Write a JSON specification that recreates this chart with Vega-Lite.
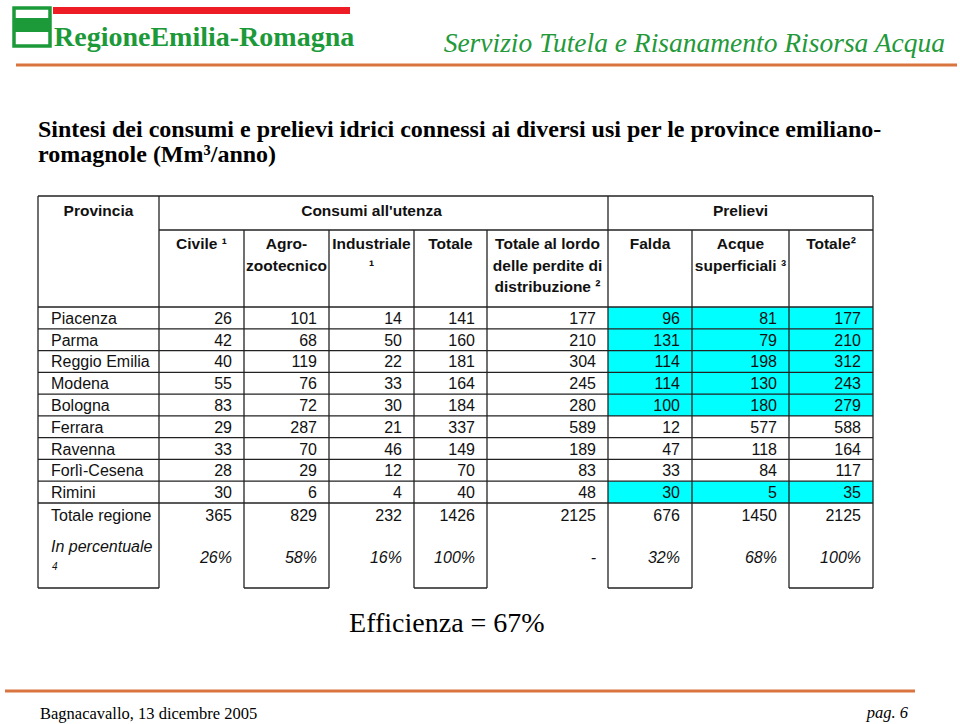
{
  "$schema": "https://vega.github.io/schema/vega-lite/v6.json",
  "width": 960,
  "height": 724,
  "autosize": {"type": "fit", "contains": "padding"},
  "padding": 0,
  "background": "white",
  "config": {"view": {"stroke": null}},
  "datasets": {
    "righe": [
      {"provincia": "Piacenza", "civile": 26, "agro": 101, "industriale": 14, "totale": 141, "lordo": 177, "falda": 96, "acque": 81, "totprel": 177},
      {"provincia": "Parma", "civile": 42, "agro": 68, "industriale": 50, "totale": 160, "lordo": 210, "falda": 131, "acque": 79, "totprel": 210},
      {"provincia": "Reggio Emilia", "civile": 40, "agro": 119, "industriale": 22, "totale": 181, "lordo": 304, "falda": 114, "acque": 198, "totprel": 312},
      {"provincia": "Modena", "civile": 55, "agro": 76, "industriale": 33, "totale": 164, "lordo": 245, "falda": 114, "acque": 130, "totprel": 243},
      {"provincia": "Bologna", "civile": 83, "agro": 72, "industriale": 30, "totale": 184, "lordo": 280, "falda": 100, "acque": 180, "totprel": 279},
      {"provincia": "Ferrara", "civile": 29, "agro": 287, "industriale": 21, "totale": 337, "lordo": 589, "falda": 12, "acque": 577, "totprel": 588},
      {"provincia": "Ravenna", "civile": 33, "agro": 70, "industriale": 46, "totale": 149, "lordo": 189, "falda": 47, "acque": 118, "totprel": 164},
      {"provincia": "Forlì-Cesena", "civile": 28, "agro": 29, "industriale": 12, "totale": 70, "lordo": 83, "falda": 33, "acque": 84, "totprel": 117},
      {"provincia": "Rimini", "civile": 30, "agro": 6, "industriale": 4, "totale": 40, "lordo": 48, "falda": 30, "acque": 5, "totprel": 35},
      {"provincia": "Totale regione", "civile": 365, "agro": 829, "industriale": 232, "totale": 1426, "lordo": 2125, "falda": 676, "acque": 1450, "totprel": 2125}
    ],
    "percentuali": [
      {"provincia": "In percentuale", "nota": "4", "civile": "26%", "agro": "58%", "industriale": "16%", "totale": "100%", "lordo": "-", "falda": "32%", "acque": "68%", "totprel": "100%"}
    ],
    "colonne": [
      {"key": "provincia", "c": 0, "titolo": [""]},
      {"key": "civile", "c": 1, "titolo": ["Civile ¹"]},
      {"key": "agro", "c": 2, "titolo": ["Agro-", "zootecnico"]},
      {"key": "industriale", "c": 3, "titolo": ["Industriale", "¹"]},
      {"key": "totale", "c": 4, "titolo": ["Totale"]},
      {"key": "lordo", "c": 5, "titolo": ["Totale al lordo", "delle perdite di", "distribuzione ²"]},
      {"key": "falda", "c": 6, "titolo": ["Falda"]},
      {"key": "acque", "c": 7, "titolo": ["Acque", "superficiali ³"]},
      {"key": "totprel", "c": 8, "titolo": ["Totale²"]}
    ],
    "gruppi": [
      {"gruppo": "Provincia", "c0": 0, "c1": 1},
      {"gruppo": "Consumi all'utenza", "c0": 1, "c1": 6},
      {"gruppo": "Prelievi", "c0": 6, "c1": 9}
    ]
  },
  "layer": [
    {
      "data": {"name": "righe"},
      "transform": [
        {"window": [{"op": "row_number", "as": "n"}]},
        {"filter": {"field": "provincia", "oneOf": ["Piacenza", "Parma", "Reggio Emilia", "Modena", "Bologna", "Rimini"]}},
        {"calculate": "datum.n + 1", "as": "r0"},
        {"calculate": "datum.n + 2", "as": "r1"}
      ],
      "mark": {"type": "rect", "color": "#00FFFF"},
      "encoding": {
        "x": {"datum": 6, "type": "quantitative", "axis": null,
              "scale": {"domain": [0, 1, 2, 3, 4, 5, 6, 7, 8, 9], "range": [38, 159, 244, 329, 414, 487, 608, 692, 789, 873], "nice": false, "zero": false}},
        "x2": {"datum": 9},
        "y": {"field": "r0", "type": "quantitative", "axis": null,
              "scale": {"domain": [0, 1, 2, 3, 4, 5, 6, 7, 8, 9, 10, 11, 12, 13], "range": [196, 230, 307, 328.8, 350.6, 372.3, 394.1, 415.9, 437.7, 459.4, 481.2, 503, 526, 588], "nice": false, "zero": false}},
        "y2": {"field": "r1"}
      }
    },
    {
      "data": {"name": "righe"},
      "transform": [
        {"window": [{"op": "row_number", "as": "n"}]},
        {"calculate": "datum.n + 1", "as": "r0"}
      ],
      "mark": {"type": "rule", "color": "#222", "strokeWidth": 1.3},
      "encoding": {
        "x": {"datum": 0, "type": "quantitative"},
        "x2": {"datum": 9},
        "y": {"field": "r0", "type": "quantitative"}
      }
    },
    {
      "data": {"name": "gruppi"},
      "transform": [{"filter": "datum.c0 == 1"}],
      "mark": {"type": "rule", "color": "#222", "strokeWidth": 1.3},
      "encoding": {
        "x": {"field": "c0", "type": "quantitative"},
        "x2": {"datum": 9},
        "y": {"datum": 1, "type": "quantitative"}
      }
    },
    {
      "data": {"name": "gruppi"},
      "transform": [{"filter": "datum.c0 == 0"}],
      "mark": {"type": "rule", "color": "#222", "strokeWidth": 1.3},
      "encoding": {
        "x": {"field": "c0", "type": "quantitative"},
        "x2": {"datum": 9},
        "y": {"datum": 0, "type": "quantitative"}
      }
    },
    {
      "data": {"name": "colonne"},
      "transform": [
        {"filter": "datum.c % 2 == 0"},
        {"calculate": "datum.c + 1", "as": "c1"}
      ],
      "mark": {"type": "rule", "color": "#222", "strokeWidth": 1.3},
      "encoding": {
        "x": {"field": "c", "type": "quantitative"},
        "x2": {"field": "c1"},
        "y": {"datum": 13, "type": "quantitative"}
      }
    },
    {
      "data": {"name": "colonne"},
      "transform": [
        {"calculate": "indexof([0, 1, 6], datum.c) >= 0 ? 0 : 1", "as": "ytop"}
      ],
      "mark": {"type": "rule", "color": "#222", "strokeWidth": 1.3},
      "encoding": {
        "x": {"field": "c", "type": "quantitative"},
        "y": {"field": "ytop", "type": "quantitative"},
        "y2": {"datum": 13}
      }
    },
    {
      "data": {"name": "gruppi"},
      "transform": [{"filter": "datum.c1 == 9"}],
      "mark": {"type": "rule", "color": "#222", "strokeWidth": 1.3},
      "encoding": {
        "x": {"field": "c1", "type": "quantitative"},
        "y": {"datum": 0, "type": "quantitative"},
        "y2": {"datum": 13}
      }
    },
    {
      "data": {"name": "gruppi"},
      "transform": [{"calculate": "(datum.c0 + datum.c1) / 2", "as": "cm"}],
      "mark": {"type": "text", "font": "Liberation Sans", "fontSize": 15.5, "fontWeight": "bold", "color": "#111", "align": "center", "baseline": "top", "dy": 8},
      "encoding": {
        "x": {"field": "cm", "type": "quantitative"},
        "y": {"datum": 0, "type": "quantitative"},
        "text": {"field": "gruppo", "type": "nominal"}
      }
    },
    {
      "data": {"name": "colonne"},
      "transform": [{"filter": "datum.c > 0"}, {"calculate": "datum.c + 0.5", "as": "cm"}],
      "mark": {"type": "text", "font": "Liberation Sans", "fontSize": 15.5, "fontWeight": "bold", "color": "#111", "align": "center", "baseline": "top", "dy": 7, "lineHeight": 21.5},
      "encoding": {
        "x": {"field": "cm", "type": "quantitative"},
        "y": {"datum": 1, "type": "quantitative"},
        "text": {"field": "titolo"}
      }
    },
    {
      "data": {"name": "righe"},
      "transform": [
        {"window": [{"op": "row_number", "as": "n"}]},
        {"calculate": "datum.n + 1.5", "as": "rm"},
        {"fold": ["civile", "agro", "industriale", "totale", "lordo", "falda", "acque", "totprel"], "as": ["key", "value"]},
        {"lookup": "key", "from": {"data": {"name": "colonne"}, "key": "key", "fields": ["c"]}},
        {"calculate": "datum.c + 1", "as": "c1"}
      ],
      "mark": {"type": "text", "font": "Liberation Sans", "fontSize": 16, "color": "#111", "align": "right", "baseline": "middle", "dx": -12, "dy": 1},
      "encoding": {
        "x": {"field": "c1", "type": "quantitative"},
        "y": {"field": "rm", "type": "quantitative"},
        "text": {"field": "value", "type": "nominal"}
      }
    },
    {
      "data": {"name": "righe"},
      "transform": [
        {"window": [{"op": "row_number", "as": "n"}]},
        {"calculate": "datum.n + 1.5", "as": "rm"}
      ],
      "mark": {"type": "text", "font": "Liberation Sans", "fontSize": 16, "color": "#111", "align": "left", "baseline": "middle", "dx": 13, "dy": 1},
      "encoding": {
        "x": {"datum": 0, "type": "quantitative"},
        "y": {"field": "rm", "type": "quantitative"},
        "text": {"field": "provincia", "type": "nominal"}
      }
    },
    {
      "data": {"name": "percentuali"},
      "transform": [
        {"fold": ["civile", "agro", "industriale", "totale", "lordo", "falda", "acque", "totprel"], "as": ["key", "value"]},
        {"lookup": "key", "from": {"data": {"name": "colonne"}, "key": "key", "fields": ["c"]}},
        {"calculate": "datum.c + 1", "as": "c1"}
      ],
      "mark": {"type": "text", "font": "Liberation Sans", "fontSize": 16, "fontStyle": "italic", "color": "#111", "align": "right", "baseline": "middle", "dx": -12, "dy": 1},
      "encoding": {
        "x": {"field": "c1", "type": "quantitative"},
        "y": {"datum": 12.5, "type": "quantitative"},
        "text": {"field": "value", "type": "nominal"}
      }
    },
    {
      "data": {"name": "percentuali"},
      "mark": {"type": "text", "font": "Liberation Sans", "fontSize": 16, "fontStyle": "italic", "color": "#111", "align": "left", "baseline": "middle", "dx": 13, "dy": -10},
      "encoding": {
        "x": {"datum": 0, "type": "quantitative"},
        "y": {"datum": 12.5, "type": "quantitative"},
        "text": {"field": "provincia", "type": "nominal"}
      }
    },
    {
      "data": {"name": "percentuali"},
      "mark": {"type": "text", "font": "Liberation Sans", "fontSize": 10, "fontStyle": "italic", "color": "#111", "align": "left", "baseline": "middle", "dx": 14, "dy": 10},
      "encoding": {
        "x": {"datum": 0, "type": "quantitative"},
        "y": {"datum": 12.5, "type": "quantitative"},
        "text": {"field": "nota", "type": "nominal"}
      }
    },
    {
      "data": {"values": [{"testo": "Efficienza = 67%"}]},
      "mark": {"type": "text", "font": "Liberation Serif", "fontSize": 28, "color": "#000", "align": "center", "baseline": "alphabetic", "dy": 44},
      "encoding": {
        "x": {"datum": 4.45, "type": "quantitative"},
        "y": {"datum": 13, "type": "quantitative"},
        "text": {"field": "testo", "type": "nominal"}
      }
    },
    {
      "data": {"values": [{"testo": ["Sintesi dei consumi e prelievi idrici connessi ai diversi usi per le province emiliano-", "romagnole (Mm³/anno)"]}]},
      "mark": {"type": "text", "font": "Liberation Serif", "fontSize": 24, "fontWeight": "bold", "color": "#000", "align": "left", "baseline": "alphabetic", "lineHeight": 25, "dy": -59},
      "encoding": {
        "x": {"datum": 0, "type": "quantitative"},
        "y": {"datum": 0, "type": "quantitative"},
        "text": {"field": "testo"}
      }
    },
    {
      "data": {"values": [{"testo": "Servizio Tutela e Risanamento Risorsa Acqua"}]},
      "mark": {"type": "text", "font": "Liberation Serif", "fontSize": 27.5, "fontStyle": "italic", "color": "#23993a", "align": "right", "baseline": "alphabetic"},
      "encoding": {"text": {"field": "testo", "type": "nominal"}, "x": {"value": 945}, "y": {"value": 52}}
    },
    {
      "data": {"values": [{"testo": "RegioneEmilia-Romagna"}]},
      "mark": {"type": "text", "font": "Liberation Serif", "fontSize": 28, "fontWeight": "bold", "color": "#1c9a3a", "align": "left", "baseline": "alphabetic"},
      "encoding": {"text": {"field": "testo", "type": "nominal"}, "x": {"value": 54}, "y": {"value": 46}}
    },
    {
      "data": {"values": [{"testo": "Bagnacavallo, 13 dicembre 2005"}]},
      "mark": {"type": "text", "font": "Liberation Serif", "fontSize": 16.5, "color": "#000", "align": "left", "baseline": "alphabetic"},
      "encoding": {"text": {"field": "testo", "type": "nominal"}, "x": {"value": 40}, "y": {"value": 719}}
    },
    {
      "data": {"values": [{"testo": "pag. 6"}]},
      "mark": {"type": "text", "font": "Liberation Serif", "fontSize": 16.5, "fontStyle": "italic", "color": "#000", "align": "right", "baseline": "alphabetic"},
      "encoding": {"text": {"field": "testo", "type": "nominal"}, "x": {"value": 908}, "y": {"value": 718}}
    },
    {
      "data": {"values": [{"elemento": "barra rossa"}]},
      "mark": {"type": "rect", "color": "#ee1c25"},
      "encoding": {"x": {"value": 53}, "x2": {"value": 350}, "y": {"value": 7}, "y2": {"value": 14}}
    },
    {
      "data": {"values": [{"elemento": "stemma"}]},
      "mark": {"type": "rect", "fill": "white", "stroke": "#1c9a3a", "strokeWidth": 3.5},
      "encoding": {"x": {"value": 14}, "x2": {"value": 50}, "y": {"value": 8}, "y2": {"value": 46}}
    },
    {
      "data": {"values": [{"elemento": "stemma interno"}]},
      "mark": {"type": "rect", "fill": "#1c9a3a"},
      "encoding": {"x": {"value": 15}, "x2": {"value": 49}, "y": {"value": 18}, "y2": {"value": 32}}
    },
    {
      "data": {"values": [{"elemento": "linea alta"}]},
      "mark": {"type": "rule", "color": "#d9743e", "strokeWidth": 3},
      "encoding": {"x": {"value": 16}, "x2": {"value": 957}, "y": {"value": 65}}
    },
    {
      "data": {"values": [{"elemento": "linea bassa"}]},
      "mark": {"type": "rule", "color": "#d9743e", "strokeWidth": 3},
      "encoding": {"x": {"value": 5}, "x2": {"value": 915}, "y": {"value": 691}}
    }
  ]
}
